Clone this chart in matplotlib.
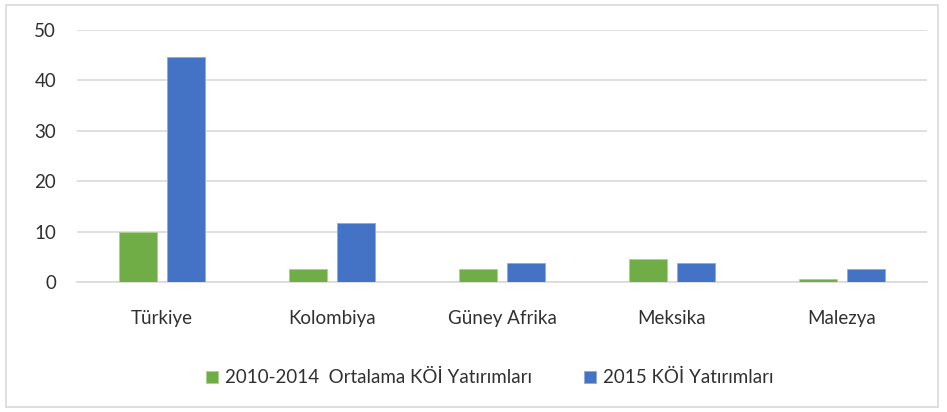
import matplotlib.pyplot as plt
import numpy as np
from matplotlib.patches import Rectangle

plt.rcParams['font.family'] = ['Lato', 'DejaVu Sans']

# Chart data
countries = ['Türkiye', 'Kolombiya', 'Güney Afrika', 'Meksika', 'Malezya']
avg_2010_2014 = [10.0, 2.6, 2.6, 4.6, 0.65]
inv_2015 = [44.6, 11.7, 3.8, 3.8, 2.5]
series_names = ['2010-2014  Ortalama KÖİ Yatırımları', '2015 KÖİ Yatırımları']
y_ticks = [0, 10, 20, 30, 40, 50]

green = '#70ad47'
blue = '#4472c4'
grid_gray = '#d9d9d9'
text_col = '#303030'

fig = plt.figure(figsize=(9.47, 4.12), dpi=100)
ax = fig.add_axes([77 / 947, 130 / 412, 850 / 947, 252 / 412])

x = np.arange(len(countries))
bar_w = 0.225
gap = 0.06
ax.bar(x - (bar_w + gap) / 2, avg_2010_2014, width=bar_w, color=green,
       edgecolor='#a9d18e', linewidth=0.6, label=series_names[0], zorder=3)
ax.bar(x + (bar_w + gap) / 2, inv_2015, width=bar_w, color=blue,
       edgecolor='#8faadc', linewidth=0.6, label=series_names[1], zorder=3)

ax.set_xlim(-0.5, len(countries) - 0.5)
ax.set_ylim(0, 50)
ax.set_yticks(y_ticks)
ax.set_xticks(x)
ax.set_xticklabels(countries)
ax.tick_params(axis='x', length=0, pad=20, labelsize=13.5, labelcolor=text_col)
ax.tick_params(axis='y', length=0, pad=15, labelsize=13.5, labelcolor=text_col)
ax.yaxis.grid(True, color=grid_gray, linewidth=1.2, zorder=0)
for side in ['top', 'right', 'left']:
    ax.spines[side].set_visible(False)
ax.spines['bottom'].set_color(grid_gray)
ax.spines['bottom'].set_linewidth(1.2)

fig.legend(loc='center', bbox_to_anchor=(0.517, 0.083), ncol=2, frameon=False,
           fontsize=13.5, handlelength=0.65, handleheight=0.65, handletextpad=0.35,
           columnspacing=2.8, labelcolor=text_col)

# outer chart border
fig.patches.append(Rectangle((6 / 947, 5 / 412), 932 / 947, 402 / 412,
                             transform=fig.transFigure, fill=False,
                             edgecolor='#d9d9d9', linewidth=1.2))

fig.savefig('out.png', dpi=100)
